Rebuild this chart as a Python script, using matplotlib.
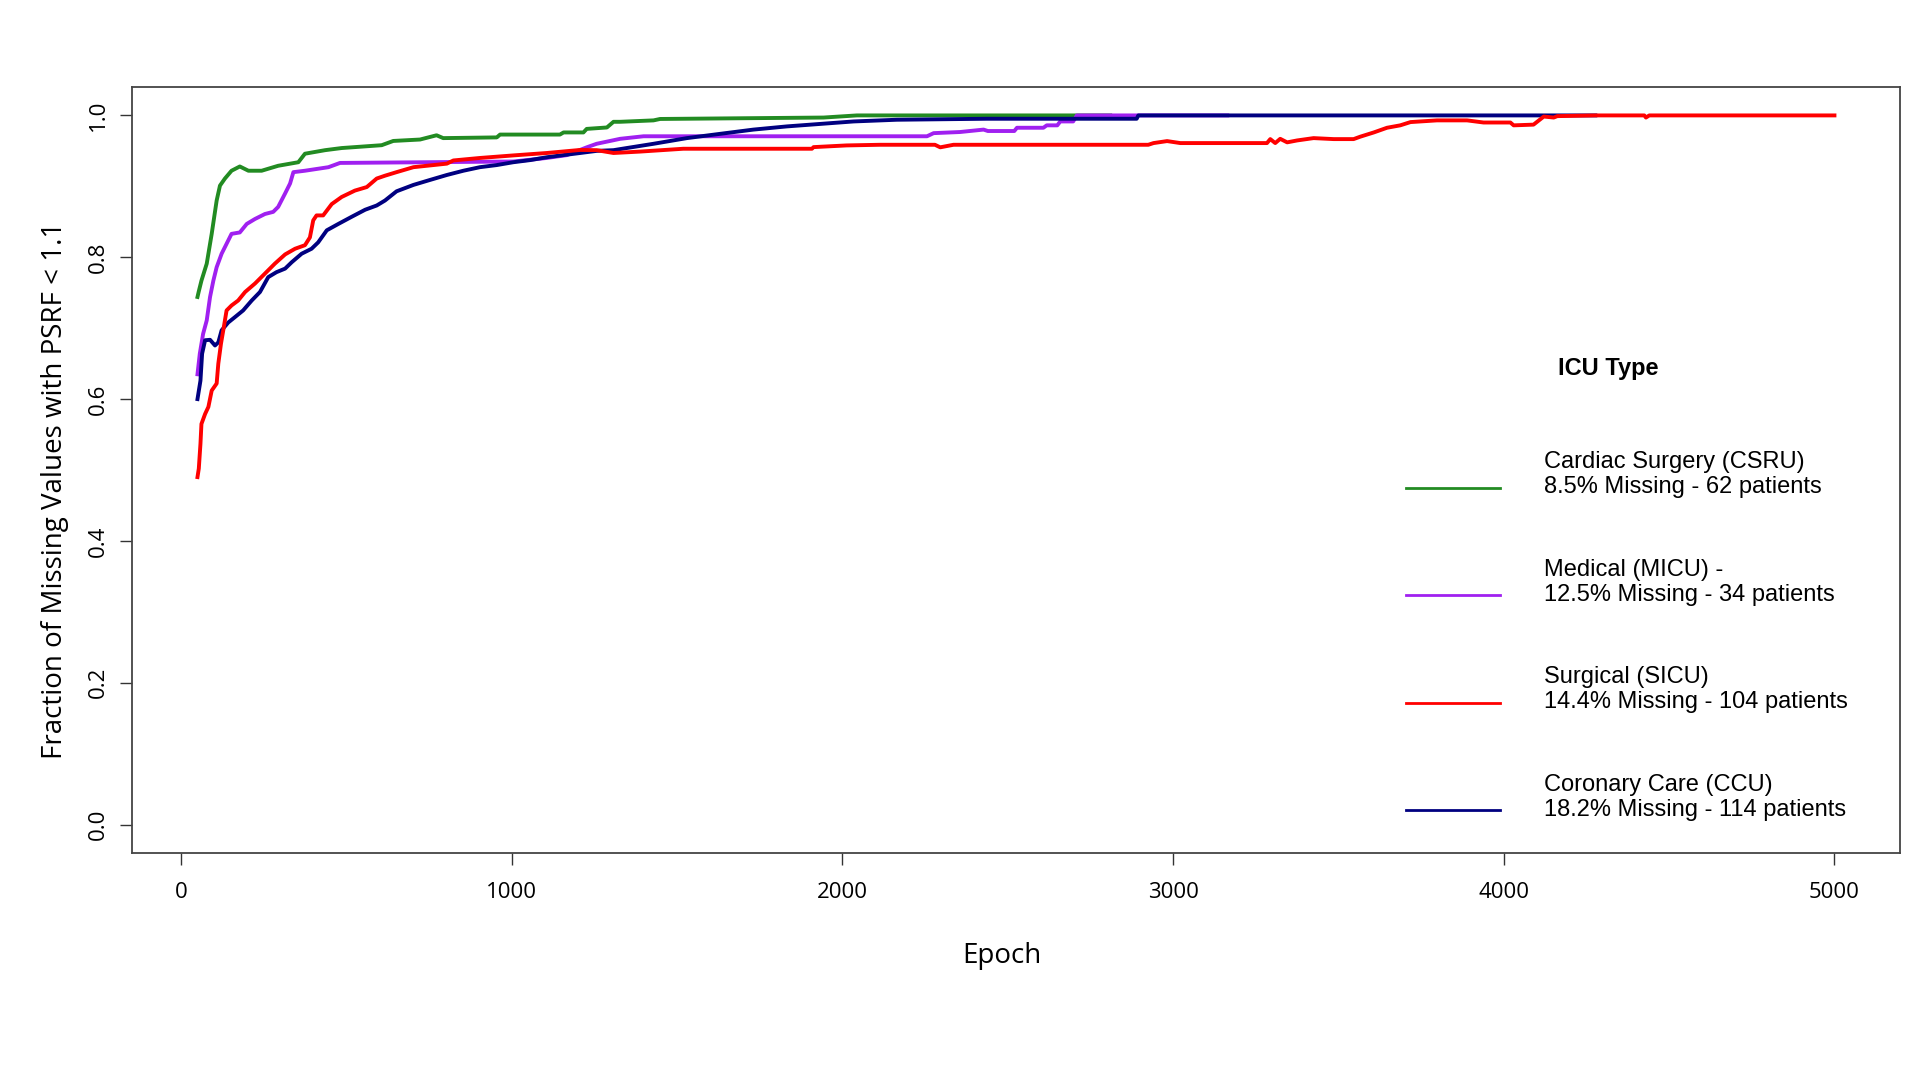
import matplotlib
matplotlib.use("Agg")
import matplotlib.pyplot as plt

# ---------------------------------------------------------------------------
# Data
# ---------------------------------------------------------------------------

csru_epoch = [50, 54, 62, 78, 93, 108, 118, 133, 153, 178, 204, 244, 294, 355,
              375, 436, 486, 607, 642, 723, 773, 793, 955, 965, 1146, 1157,
              1217, 1227, 1288, 1308, 1328, 1429, 1449, 1943, 2044, 2810]
csru_frac = [0.744, 0.752, 0.767, 0.791, 0.833, 0.880, 0.901, 0.911, 0.922,
             0.928, 0.922, 0.922, 0.929, 0.934, 0.946, 0.951, 0.954, 0.958,
             0.964, 0.966, 0.972, 0.968, 0.969, 0.973, 0.973, 0.976, 0.976,
             0.981, 0.983, 0.991, 0.991, 0.993, 0.995, 0.997, 1.0, 1.0]

micu_epoch = [50, 57, 67, 78, 88, 98, 108, 123, 138, 153, 178, 199, 224, 254,
              279, 294, 315, 330, 340, 375, 446, 481, 1005, 1106, 1167, 1227,
              1257, 1308, 1328, 1399, 2256, 2276, 2356, 2427, 2440, 2520,
              2528, 2608, 2618, 2650, 2659, 2698, 2709, 3164]
micu_frac = [0.635, 0.664, 0.692, 0.711, 0.744, 0.767, 0.786, 0.805, 0.819,
             0.833, 0.835, 0.847, 0.854, 0.861, 0.864, 0.871, 0.890, 0.904,
             0.920, 0.922, 0.927, 0.933, 0.935, 0.940, 0.944, 0.955, 0.960,
             0.965, 0.967, 0.9706, 0.9706, 0.975, 0.9766, 0.980, 0.978,
             0.978, 0.9826, 0.9826, 0.986, 0.986, 0.9915, 0.9915, 1.0, 1.0]

sicu_epoch = [50, 54, 59, 62, 73, 83, 93, 108, 113, 121, 128, 138, 153, 173,
              194, 224, 254, 284, 315, 345, 375, 390, 400, 410, 430, 456, 486,
              526, 562, 592, 617, 652, 703, 804, 824, 904, 1005, 1106, 1207,
              1257, 1308, 1388, 1519, 1908, 1913, 2013, 2114, 2280, 2296,
              2336, 2925, 2941, 2982, 3022, 3284, 3294, 3309, 3324, 3345,
              3375, 3425, 3486, 3546, 3566, 3607, 3647, 3687, 3718, 3798,
              3889, 3939, 4020, 4030, 4090, 4121, 4151, 4162, 4277, 4425,
              4430, 4440, 5000]
sicu_frac = [0.490, 0.502, 0.537, 0.565, 0.579, 0.589, 0.612, 0.622, 0.650,
             0.678, 0.697, 0.725, 0.732, 0.739, 0.751, 0.763, 0.777, 0.791,
             0.804, 0.812, 0.817, 0.828, 0.852, 0.859, 0.859, 0.875, 0.885,
             0.894, 0.899, 0.911, 0.915, 0.920, 0.927, 0.932, 0.9365, 0.940,
             0.9436, 0.947, 0.9513, 0.951, 0.947, 0.949, 0.953, 0.953,
             0.9553, 0.9577, 0.9586, 0.9586, 0.955, 0.9586, 0.9586, 0.961,
             0.9638, 0.961, 0.961, 0.9666, 0.961, 0.967, 0.962, 0.9647,
             0.968, 0.9666, 0.9666, 0.970, 0.976, 0.9826, 0.986, 0.9906,
             0.993, 0.993, 0.990, 0.990, 0.986, 0.987, 0.9984, 0.997, 0.999,
             1.0, 1.0, 0.997, 1.0, 1.0]

ccu_epoch = [50, 59, 64, 73, 88, 103, 113, 123, 143, 163, 188, 214, 239, 264,
             289, 315, 335, 365, 395, 415, 441, 476, 516, 557, 592, 617, 652,
             703, 753, 804, 854, 904, 955, 1005, 1056, 1106, 1156, 1207, 1257,
             1308, 1348, 1429, 1530, 1630, 1731, 1832, 1933, 2034, 2165, 2437,
             2890, 2895, 4277]
ccu_frac = [0.600, 0.626, 0.664, 0.683, 0.6836, 0.6756, 0.680, 0.697, 0.708,
            0.7155, 0.725, 0.739, 0.751, 0.772, 0.779, 0.784, 0.793, 0.805,
            0.812, 0.821, 0.838, 0.847, 0.857, 0.867, 0.873, 0.880, 0.893,
            0.902, 0.909, 0.916, 0.922, 0.927, 0.930, 0.934, 0.937, 0.941,
            0.944, 0.947, 0.950, 0.951, 0.954, 0.960, 0.968, 0.974, 0.980,
            0.9845, 0.988, 0.9915, 0.9939, 0.9953, 0.9953, 1.0, 1.0]

legend_labels = [
    "Cardiac Surgery (CSRU)\n8.5% Missing - 62 patients\n ",
    "Medical (MICU) -\n12.5% Missing - 34 patients\n ",
    "Surgical (SICU)\n14.4% Missing - 104 patients\n ",
    "Coronary Care (CCU)\n18.2% Missing - 114 patients\n ",
]
x_ticks = [0, 1000, 2000, 3000, 4000, 5000]
y_ticks = [0.0, 0.2, 0.4, 0.6, 0.8, 1.0]

GREEN, PURPLE, RED, NAVY = "#228B22", "#A020F0", "#FF0000", "#000080"

# ---------------------------------------------------------------------------
# Figure
# ---------------------------------------------------------------------------

plt.rcParams["font.family"] = ["Open Sans", "DejaVu Sans"]

fig = plt.figure(figsize=(19.2, 10.8), dpi=100, facecolor="white")
ax = fig.add_axes([0.06875, 0.2102, 0.9208, 0.7092])

lw = 2.8
l_csru, = ax.plot(csru_epoch, csru_frac, color=GREEN, lw=lw)
l_micu, = ax.plot(micu_epoch, micu_frac, color=PURPLE, lw=lw)
l_ccu,  = ax.plot(ccu_epoch, ccu_frac, color=NAVY, lw=lw)
l_sicu, = ax.plot(sicu_epoch, sicu_frac, color=RED, lw=lw)

ax.set_xlim(-148, 5198)
ax.set_ylim(-0.04, 1.04)
ax.set_xticks(x_ticks)
ax.set_xticklabels([str(t) for t in x_ticks])
ax.set_yticks(y_ticks)
ax.set_yticklabels([f"{t:.1f}" for t in y_ticks])

ax.tick_params(axis="both", direction="out", length=8.6, width=1.0,
               color="#333333", labelsize=16, labelcolor="black")
ax.tick_params(axis="x", pad=12)
ax.tick_params(axis="y", pad=8, labelrotation=90)
for lbl in ax.get_yticklabels():
    lbl.set_verticalalignment("center")

for sp in ax.spines.values():
    sp.set_color("#444444")
    sp.set_linewidth(1.3)

ax.set_xlabel("Epoch", fontsize=20, va="center")
ax.xaxis.set_label_coords(0.492, -0.135)
ax.set_ylabel("Fraction of Missing Values with PSRF < 1.1", fontsize=20,
              va="center")
ax.yaxis.set_label_coords(-0.0435, 0.474)

# --- Legend ---
leg = ax.legend([l_csru, l_micu, l_sicu, l_ccu], legend_labels,
                loc="upper left", bbox_to_anchor=(0.7323, 0.5824),
                bbox_transform=fig.transFigure, frameon=False,
                borderpad=0, borderaxespad=0, handlelength=4.0,
                handletextpad=1.86, labelspacing=1.47,
                prop={"family": "Liberation Sans", "size": 17})
for ln in leg.get_lines():
    ln.set_linewidth(2.0)

fig.text(1608 / 1920, 1 - 369 / 1080, "ICU Type", ha="center", va="center",
         fontsize=17, fontweight="bold", family="Liberation Sans")

fig.savefig("out.png", dpi=100, facecolor="white")
